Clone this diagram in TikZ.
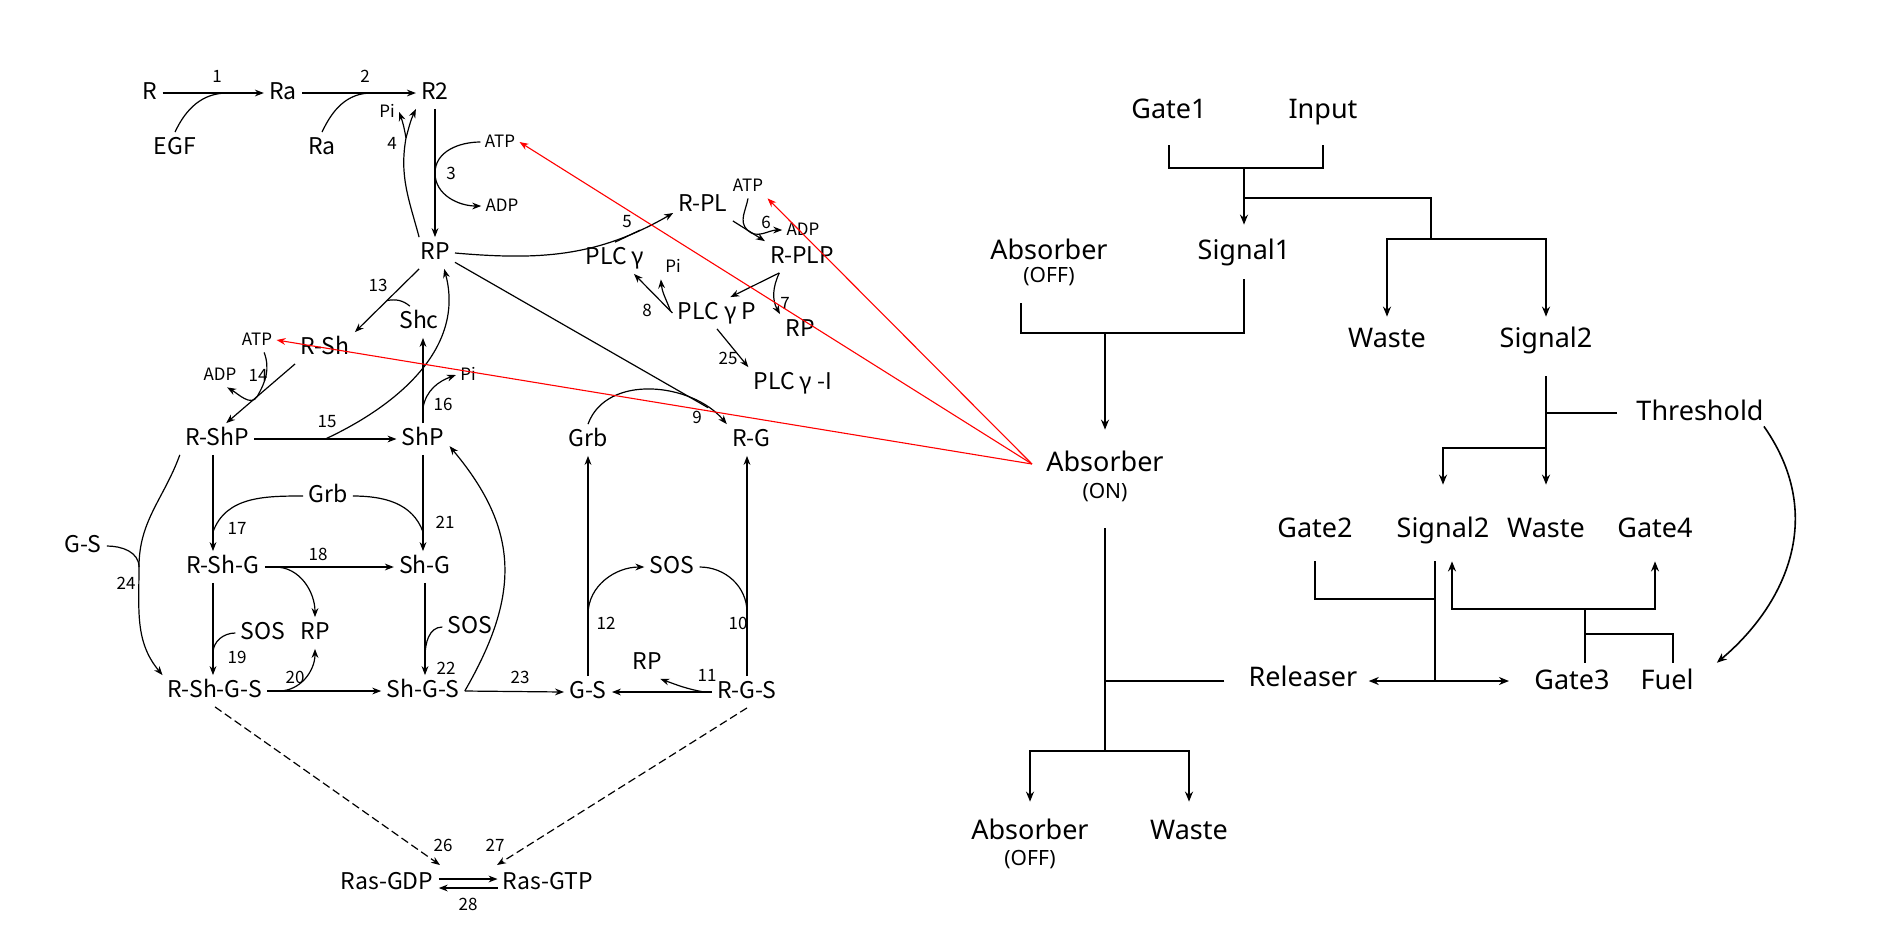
\documentclass[tikz,border=0pt]{standalone}
\usepackage{fontspec}
\usepackage{tikz}
\usetikzlibrary{arrows.meta}
\usetikzlibrary{positioning}
\newfontfamily\jpfont{Noto Sans CJK JP}
\newfontfamily\dnafont{Noto Sans}

\begin{document}
\begin{tikzpicture}[x=0.5pt, y=-0.5pt,
    mymol/.style={font=\jpfont\fontsize{11.5}{13}\selectfont, inner sep=2.5pt, text height=8.5pt, text depth=2pt},
    mysmall/.style={font=\jpfont\fontsize{8.5}{10}\selectfont, inner sep=2pt, text height=6.5pt, text depth=1.5pt},
    mynum/.style={font=\jpfont\fontsize{8.5}{10}\selectfont, inner sep=0pt},
    myrxn/.style={line width=0.6pt, -{Stealth[length=4.5pt, width=3.4pt]}},
    mylink/.style={line width=0.6pt},
    myrasarrow/.style={myrxn, dash pattern=on 4pt off 2pt},
    mytrigger/.style={red, line width=0.55pt, -{Stealth[length=4.5pt, width=3.4pt]}},
    mystrand/.style={font=\dnafont\fontsize{13.5}{16}\selectfont, inner sep=0pt, text height=10pt, text depth=3pt},
    mystate/.style={font=\dnafont\fontsize{10.5}{12}\selectfont, inner sep=0pt, text height=7.5pt, text depth=2.5pt},
    mywire/.style={line width=0.8pt},
    mywirearrow/.style={mywire, -{Stealth[length=5pt, width=4pt]}}
]
\useasboundingbox (0,0) rectangle (1900,950);

% ---- EGF receptor pathway (left) ----
\node[mymol] (R)   at (150,93)  {R};
\node[mymol] (Ra)  at (283,93)  {Ra};
\node[mymol] (R2)  at (435,93)  {R2};
\node[mymol] (EGF) at (175,148) {EGF};
\node[mymol] (Ra2) at (322,148) {Ra};
\node[mysmall] (PiR2) at (387,112) {Pi};
\node[mymol] (RP)  at (435,253) {RP};
\node[mysmall] (ATPr) at (500,142) {ATP};
\node[mysmall] (ADPr) at (502,206) {ADP};

\node[mymol] (RPL)   at (703,205) {R-PL};
\node[mysmall] (ATPl) at (748,186) {ATP};
\node[mysmall] (ADPl) at (803,230) {ADP};
\node[mymol] (RPLP)  at (802,257) {R-PLP};
\node[mymol] (PLCg)  at (615,258) {PLC γ};
\node[mysmall] (PiP) at (673,267) {Pi};
\node[mymol] (PLCgP) at (717,313) {PLC γ P};
\node[mymol] (RP7)   at (800,330) {RP};
\node[mymol] (PLCgI) at (793,383) {PLC γ -I};

\node[mymol] (Shc)  at (419,322) {Shc};
\node[mymol] (RSh)  at (325,348) {R-Sh};
\node[mysmall] (ATPs) at (257,340) {ATP};
\node[mysmall] (ADPs) at (220,375) {ADP};
\node[mymol] (RShP) at (217,439) {R-ShP};
\node[mymol] (ShP)  at (423,439) {ShP};
\node[mysmall] (PiS) at (468,375) {Pi};

\node[mymol] (GrbS)  at (328,496) {Grb};
\node[mymol] (GSl)   at (83,546)  {G-S};
\node[mymol] (RShG)  at (223,567) {R-Sh-G};
\node[mymol] (ShG)   at (425,567) {Sh-G};
\node[mymol] (SOSr)  at (263,633) {SOS};
\node[mymol] (RPh)   at (315,633) {RP};
\node[mymol] (SOSs)  at (470,627) {SOS};
\node[mymol] (RShGS) at (215,691) {R-Sh-G-S};
\node[mymol] (ShGS)  at (423,691) {Sh-G-S};

\node[mymol] (GrbR) at (588,440) {Grb};
\node[mymol] (RG)   at (751,440) {R-G};
\node[mymol] (SOSg) at (672,567) {SOS};
\node[mymol] (RPg)  at (647,663) {RP};
\node[mymol] (GS)   at (588,692) {G-S};
\node[mymol] (RGS)  at (747,692) {R-G-S};

\node[mymol] (RasGDP) at (387,883) {Ras-GDP};
\node[mymol] (RasGTP) at (548,883) {Ras-GTP};

\foreach \n/\x/\y in {1/217/76, 2/365/76, 3/451/173, 4/392/143, 5/627/222, 6/766/222,
    7/785/303, 8/647/310, 9/697/417, 10/738/623, 11/707/675, 12/606/623, 13/378/285,
    14/258/375, 15/327/422, 16/443/404, 17/237/528, 18/318/554, 19/237/657, 20/295/677,
    21/445/522, 22/446/668, 23/520/677, 24/126/583, 25/728/358, 26/443/845, 27/495/845,
    28/468/904}
  \node[mynum] (n\n) at (\x,\y) {\n};

% 1, 2
\draw[myrxn] (R) -- coordinate[pos=0.64] (m1) (Ra);
\draw[mylink] (EGF.north) to[out=65,in=180] (m1);
\draw[myrxn] (Ra) -- coordinate[pos=0.61] (m2) (R2);
\draw[mylink] (Ra2.north) to[out=65,in=180] (m2);
% 3, 4
\draw[myrxn] (R2) -- coordinate[pos=0.5] (m3) (RP);
\draw[myrxn] (ATPr.west) to[out=180,in=90] (m3) to[out=-90,in=180] (ADPr.west);
\coordinate (j4) at (406,138);
\draw[myrxn] (RP.135) to[out=105,in=-100] (j4) to[out=75,in=-115] (R2.south west);
\draw[myrxn] (j4) to[out=100,in=-70] (PiR2.east);
% 5 - 8, 25
\draw[myrxn] (RP.east) to[out=-5,in=210] coordinate[pos=0.85] (m5) (RPL.195);
\draw[mylink] (PLCg.north) to[out=25,in=205] (m5);
\draw[myrxn] (RPL.south east) -- coordinate[pos=0.45] (m6) (RPLP.north west);
\draw[myrxn] (ATPl.south) to[out=-100,in=135] (m6) to[out=-45,in=180] (ADPl.west);
\draw[myrxn] (RPLP.215) -- coordinate[pos=0] (s7) (PLCgP.50);
\draw[myrxn] (s7) to[out=-115,in=120] (RP7.north west);
\draw[myrxn] (PLCgP.west) -- coordinate[pos=0.05] (s8) (PLCg.-40);
\draw[myrxn] (s8) to[out=110,in=-85] (PiP.south west);
\draw[myrxn] (PLCgP.south) -- (PLCgI.north west);
% 9 - 12
\draw[myrxn] (GrbR.north) to[out=70,in=130] coordinate[pos=0.85] (m9) (RG.north west);
\draw[mylink] (RP.-25) -- (m9);
\draw[myrxn] (RGS.north) -- coordinate[pos=0.29] (m10) (RGS.north |- RG.south);
\draw[mylink] (SOSg.east) to[out=0,in=90] (m10);
\draw[myrxn] (RGS.west) -- coordinate[pos=0.08] (s11) (GS.east);
\draw[myrxn] (s11) to[out=170,in=-20] (RPg.-50);
\draw[myrxn] (GS.north) -- coordinate[pos=0.28] (m12) (GS.north |- GrbR.south);
\draw[myrxn] (m12) to[out=90,in=180] (SOSg.west);
% 13 - 16
\draw[myrxn] (RP.-135) -- coordinate[pos=0.5] (m13) (RSh.north east);
\draw[mylink] (Shc.120) to[out=140,in=10] (m13);
\draw[myrxn] (RSh.south west) -- coordinate[pos=0.55] (m14) (RShP.60);
\draw[myrxn] (ATPs.-60) to[out=-70,in=60] (m14) to[out=240,in=-30] (ADPs.-60);
\draw[myrxn] (RShP.east) -- coordinate[pos=0.5] (m15) (ShP.west);
\draw[myrxn] (m15) to[out=25,in=-75] (RP.-60);
\draw[myrxn] (ShP.north) -- coordinate[pos=0.18] (m16) (ShP.north |- Shc.south);
\draw[myrxn] (m16) to[out=80,in=200] (PiS.west);
% 17 - 24
\draw[myrxn] ([xshift=-2pt]RShP.south) -- coordinate[pos=0.8] (m17) ([xshift=-2pt]RShP.south |- RShG.north);
\draw[mylink] (GrbS.west) to[out=180,in=70] (m17);
\draw[myrxn] (ShP.south) -- coordinate[pos=0.8] (m21) (ShP.south |- ShG.north);
\draw[mylink] (GrbS.east) to[out=0,in=110] (m21);
\draw[myrxn] (RShG.east) -- coordinate[pos=0.08] (s18) (ShG.west);
\draw[myrxn] (s18) to[out=0,in=90] (RPh.north);
\draw[myrxn] ([xshift=-5pt]RShG.south) -- coordinate[pos=0.76] (m19) ([xshift=-5pt]RShG.south |- RShGS.north);
\draw[mylink] (SOSr.west) to[out=180,in=90] (m19);
\draw[myrxn] (ShG.south) -- coordinate[pos=0.8] (m22) (ShG.south |- ShGS.north);
\draw[mylink] (SOSs.west) to[out=180,in=90] (m22);
\draw[myrxn] (RShGS.east) -- coordinate[pos=0.1] (s20) (ShGS.west);
\draw[myrxn] (s20) to[out=0,in=-90] (RPh.south);
\draw[myrxn] (ShGS.east) to[out=60,in=-50,looseness=1.15] (ShP.-15);
\draw[myrxn] (ShGS.east) -- (GS.west);
\coordinate (j24) at (139,567);
\draw[myrxn] (RShP.south west) to[out=-110,in=90] (j24) to[out=-90,in=130] (RShGS.north west);
\draw[mylink] (GSl.east) to[out=0,in=90] (j24);
% 26 - 28
\coordinate (t26) at (440,865);
\coordinate (t27) at (497,865);
\draw[myrasarrow] (RShGS.south) -- (t26);
\draw[myrasarrow] (RGS.south) -- (t27);
\draw[myrxn] ([yshift=2pt]RasGDP.east) -- ([yshift=2pt]RasGTP.west);
\draw[myrxn] ([yshift=-2.5pt]RasGTP.west) -- ([yshift=-2.5pt]RasGDP.east);

% ---- DNA strand displacement circuit (right) ----
\node[mystrand] (Gate1)     at (1169,111) {Gate1};
\node[mystrand] (Input)     at (1323,111) {Input};
\node[mystrand] (Signal1)   at (1244,252) {Signal1};
\node[mystrand] (AbsA)      at (1049,252) {Absorber};
\node[mystate]  (AbsAs)     at (1049,277) {(OFF)};
\node[mystrand] (WasteA)    at (1387,340) {Waste};
\node[mystrand] (Signal2A)  at (1546,340) {Signal2};
\node[mystrand] (AbsB)      at (1105,464) {Absorber};
\node[mystate]  (AbsBs)     at (1105,493) {(ON)};
\node[mystrand] (Threshold) at (1700,413) {Threshold};
\node[mystrand] (Gate2)     at (1315,530) {Gate2};
\node[mystrand] (Signal2B)  at (1443,530) {Signal2};
\node[mystrand] (WasteB)    at (1546,530) {Waste};
\node[mystrand] (Gate4)     at (1655,530) {Gate4};
\node[mystrand] (Releaser)  at (1303,679) {Releaser};
\node[mystrand] (Gate3)     at (1572,682) {Gate3};
\node[mystrand] (Fuel)      at (1667,682) {Fuel};
\node[mystrand] (AbsC)      at (1030,832) {Absorber};
\node[mystate]  (AbsCs)     at (1030,860) {(OFF)};
\node[mystrand] (WasteC)    at (1189,832) {Waste};

\coordinate (jA) at (1244,168);
\coordinate (jB) at (1244,198);
\coordinate (jC) at (1431,239);
\coordinate (jD) at (1105,333);
\coordinate (jE) at (1546,413);
\coordinate (jF) at (1546,448);
\coordinate (jG) at (1435,599);
\coordinate (jH) at (1435,681);
\coordinate (jI) at (1585,609);
\coordinate (jJ) at (1585,634);
\coordinate (jK) at (1105,751);
\coordinate (jL) at (1105,681);

\draw[mywire] ([yshift=-10.5pt]Gate1.south) |- (jA) -| ([yshift=-10.5pt]Input.south);
\draw[mywirearrow, shorten >=7pt] (jA) -- (Signal1.north);
\draw[mywire] (jB) -| (jC);
\draw[mywirearrow, shorten >=5pt] (jC) -| (WasteA.north);
\draw[mywirearrow, shorten >=5pt] (jC) -| (Signal2A.north);
\draw[mywire] ([xshift=-14pt,yshift=-8pt]AbsAs.south) |- (jD) -| ([yshift=-7pt]Signal1.south);
\draw[mywirearrow, shorten >=10.5pt] (jD) -- (AbsB.north);
\draw[mywirearrow, shorten <=11.5pt, shorten >=16pt] (Signal2A.south) -- (WasteB.north);
\draw[mywire] ([xshift=-9.5pt]Threshold.west) -- (jE);
\draw[mywirearrow, shorten >=16pt] (jF) -| (Signal2B.north);
\draw[mywire] ([yshift=-9pt]Gate2.south) |- (jG);
\draw[mywire] ([xshift=-4pt,yshift=-9pt]Signal2B.south) -- (jH);
\draw[mywirearrow, shorten >=5.5pt] (jH) -- (jH -| Releaser.east);
\draw[mywirearrow, shorten >=12.5pt] (jH) -- (jH -| Gate3.west);
\draw[mywire] ([xshift=6.5pt,yshift=3pt]Gate3.north) -- (jI);
\draw[mywirearrow, shorten >=9pt] (jI) -| ([xshift=4.5pt]Signal2B.south);
\draw[mywirearrow, shorten >=9pt] (jI) -| (Gate4.south);
\draw[mywire] ([xshift=3pt,yshift=3pt]Fuel.north) |- (jJ);
\draw[mywirearrow, shorten >=15pt] (Threshold.south east) to[out=-55,in=40,looseness=1.1] (Fuel.east);
\draw[mywire] ([yshift=-12.5pt]AbsBs.south) -- (jK);
\draw[mywire, shorten <=12pt] (jL -| Releaser.west) -- (jL);
\draw[mywirearrow, shorten >=8.5pt] (jK) -| (AbsC.north);
\draw[mywirearrow, shorten >=8.5pt] (jK) -| (WasteC.north);

% Absorber (ON) acts on the ATP pools
\draw[mytrigger] ([xshift=-7pt]AbsB.west) -- (ATPr.east);
\draw[mytrigger] ([xshift=-7pt]AbsB.west) -- (ATPl.south east);
\draw[mytrigger] ([xshift=-7pt]AbsB.west) -- (ATPs.east);
\end{tikzpicture}
\end{document}
